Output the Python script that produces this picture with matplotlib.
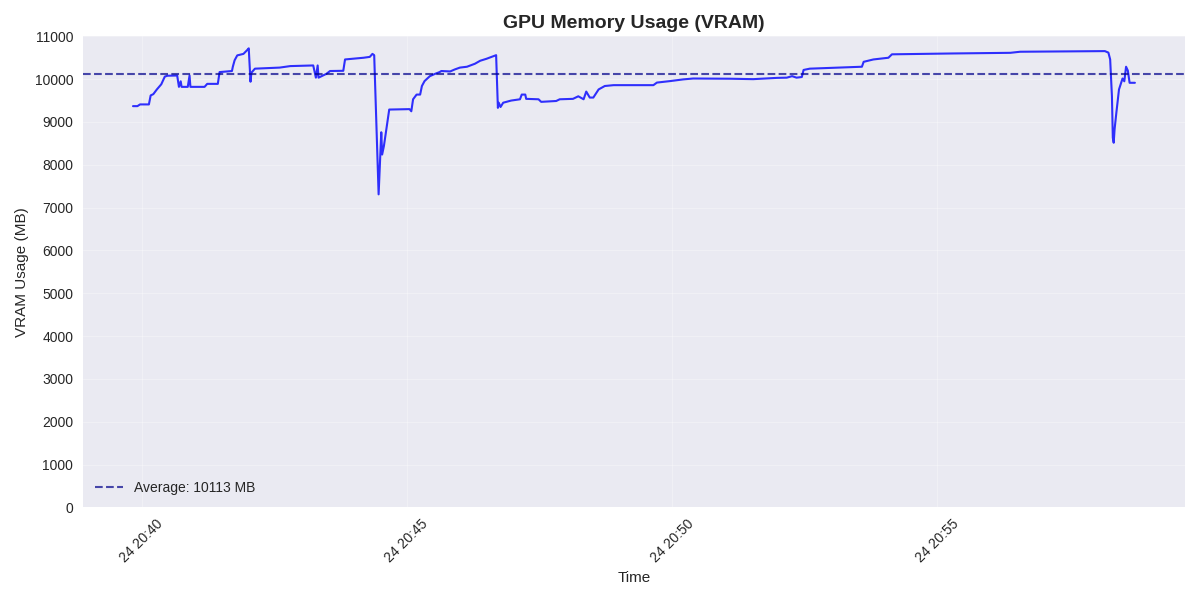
import matplotlib
matplotlib.use("Agg")
import matplotlib.pyplot as plt
import matplotlib.dates as mdates
import pandas as pd

plt.style.use("seaborn-v0_8-darkgrid")

date = "2024-05-24"
times = [
    "20:39:50", "20:39:55", "20:39:58", "20:40:08", "20:40:10", "20:40:13", "20:40:17",
    "20:40:22", "20:40:26", "20:40:29", "20:40:40", "20:40:42", "20:40:44", "20:40:45",
    "20:40:52", "20:40:54", "20:40:55", "20:41:11", "20:41:14", "20:41:26", "20:41:28",
    "20:41:42", "20:41:43", "20:41:45", "20:41:48", "20:41:55", "20:42:00", "20:42:01",
    "20:42:03", "20:42:04", "20:42:08", "20:42:36", "20:42:48", "20:43:14", "20:43:17",
    "20:43:19", "20:43:20", "20:43:29", "20:43:33", "20:43:48", "20:43:50", "20:44:11",
    "20:44:18", "20:44:21", "20:44:23", "20:44:28", "20:44:31", "20:44:32", "20:44:34",
    "20:44:40", "20:45:03", "20:45:05", "20:45:07", "20:45:11", "20:45:15", "20:45:17",
    "20:45:20", "20:45:26", "20:45:32", "20:45:37", "20:45:39", "20:45:49", "20:45:54",
    "20:46:00", "20:46:08", "20:46:17", "20:46:23", "20:46:30", "20:46:41", "20:46:43",
    "20:46:44", "20:46:46", "20:46:49", "20:46:58", "20:47:08", "20:47:10", "20:47:14",
    "20:47:15", "20:47:29", "20:47:32", "20:47:49", "20:47:53", "20:48:08", "20:48:14",
    "20:48:20", "20:48:23", "20:48:27", "20:48:31", "20:48:37", "20:48:44", "20:48:54",
    "20:49:39", "20:49:43", "20:49:58", "20:50:13", "20:50:24", "20:51:06", "20:51:32",
    "20:51:59", "20:52:10", "20:52:16", "20:52:21", "20:52:27", "20:52:29", "20:52:36",
    "20:52:55", "20:53:35", "20:53:37", "20:53:48", "20:54:05", "20:54:09", "20:54:44",
    "20:55:18", "20:56:23", "20:56:34", "20:57:12", "20:58:10", "20:58:14", "20:58:16",
    "20:58:18", "20:58:19", "20:58:20", "20:58:21", "20:58:23", "20:58:26", "20:58:30",
    "20:58:32", "20:58:34", "20:58:36", "20:58:38", "20:58:44",
]
vram_mb = [
    9370, 9370, 9410, 9410, 9620, 9650, 9760,
    9880, 10060, 10080, 10085, 9820, 9950, 9820,
    9820, 10085, 9820, 9820, 9890, 9890, 10165,
    10190, 10290, 10440, 10555, 10590, 10695, 10720,
    9940, 10150, 10245, 10270, 10305, 10320, 10035,
    10320, 10035, 10125, 10190, 10195, 10460, 10500,
    10520, 10590, 10560, 7310, 8760, 8240, 8440,
    9290, 9300, 9250, 9530, 9640, 9640, 9840,
    9955, 10070, 10125, 10165, 10190, 10180, 10225,
    10270, 10290, 10360, 10430, 10475, 10560, 9330,
    9450, 9350, 9450, 9500, 9530, 9640, 9640,
    9540, 9530, 9470, 9490, 9530, 9540, 9600,
    9530, 9710, 9570, 9570, 9760, 9840, 9860,
    9860, 9920, 9955, 9995, 10015, 10010, 10000,
    10030, 10035, 10070, 10035, 10050, 10215, 10245,
    10260, 10290, 10405, 10460, 10500, 10580, 10590,
    10600, 10615, 10640, 10645, 10655, 10620, 10460,
    9600, 8630, 8515, 8830, 9215, 9760, 10015,
    9950, 10290, 10200, 9915, 9915,
]
average_mb = 10113

ts = pd.to_datetime([f"{date} {t}" for t in times])

fig, ax = plt.subplots(figsize=(12, 6), dpi=100)
ax.plot(ts, vram_mb, color="blue", alpha=0.8, linewidth=1.5)
ax.axhline(average_mb, color="darkblue", linestyle="--", alpha=0.7, linewidth=1.5,
           label=f"Average: {average_mb} MB")

ax.set_title("GPU Memory Usage (VRAM)", fontsize=14, fontweight="bold")
ax.set_xlabel("Time", fontsize=11)
ax.set_ylabel("VRAM Usage (MB)", fontsize=11)
ax.set_ylim(0, 11000)
ax.set_yticks(range(0, 11001, 1000))
ax.xaxis.set_major_locator(mdates.MinuteLocator(byminute=range(0, 60, 5)))
ax.xaxis.set_major_formatter(mdates.DateFormatter("%d %H:%M"))
ax.tick_params(axis="both", which="major", length=3.5, bottom=False, left=False)
ax.grid(True, alpha=0.3)
plt.setp(ax.get_xticklabels(), rotation=45, ha="center")
ax.legend(loc="lower left")
fig.tight_layout()
fig.savefig("out.png")
